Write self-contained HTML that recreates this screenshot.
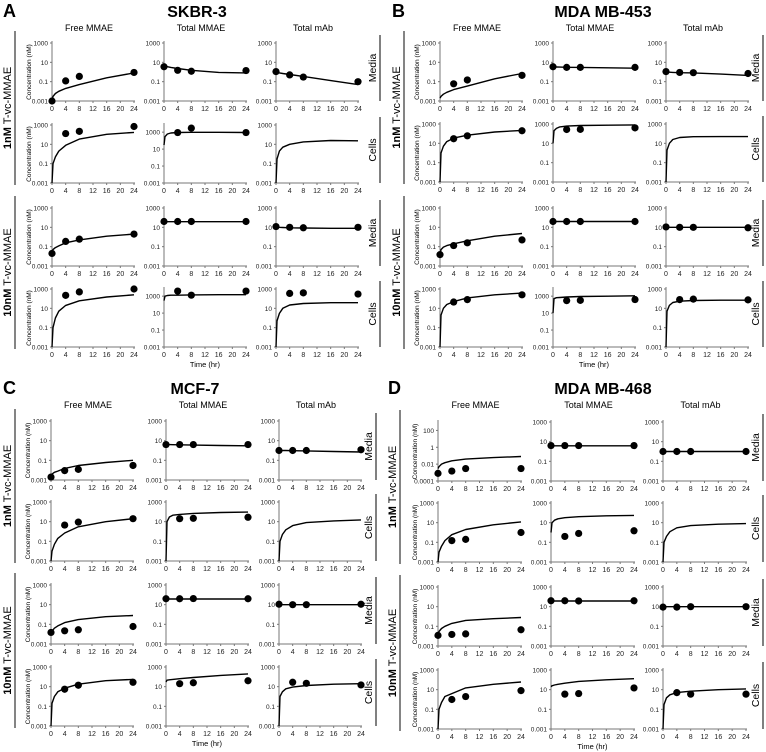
<!DOCTYPE html>
<html><head><meta charset="utf-8"><style>
html,body{margin:0;padding:0;background:#fff}
svg{display:block;font-family:"Liberation Sans",sans-serif}
</style></head><body>
<svg id="fig" width="766" height="752" viewBox="0 0 766 752" xmlns="http://www.w3.org/2000/svg"></svg>
<script>
const T_PTS=[0,4,8,24];
const T_CURVE=[0,0.3,1,2,4,8,16,24];
const X_TICKS=[0,4,8,12,16,20,24];
const COL_TITLES=['Free MMAE','Total MMAE','Total mAb'];
const ROW_TYPES=['Media','Cells','Media','Cells'];
const DOSE_LABELS=['1nM','10nM'];
const N=null;
const ptsA=[[0.001,0.12,0.35,0.9],[3.5,1.5,1.2,1.4],[1.1,0.5,0.3,0.1],
 [N,130,220,700],[N,900,3000,900],N,
 [0.02,0.35,0.6,2],[40,40,40,40],[12,10,9,10],
 [N,220,500,1300],[N,4000,1300,4000],[N,350,400,300]];
const curveA=[[0.001,0.003,0.006,0.01,0.02,0.05,0.25,0.8],[4,3.8,3.5,3,2.3,1.5,0.9,0.8],[0.9,0.85,0.8,0.7,0.55,0.35,0.13,0.05],
 [0.001,0.1,0.5,2,8,35,110,170],[30,300,600,800,900,950,950,900],[0.001,0.3,2,5,10,18,25,23],
 [0.02,0.05,0.08,0.12,0.25,0.5,1.2,2],[38,38,38,38,38,38,38,38],[11,10.5,10,9.5,9,8.5,8,8],
 [0.001,0.1,1,5,20,60,150,250],[300,1000,1200,1300,1300,1400,1500,1500],[0.001,0.5,3,10,22,32,38,38]];
const ptsB=[[N,0.06,0.15,0.45],[3.5,3,3,3],[1.1,0.9,0.85,0.7],
 [N,30,60,200],[N,270,280,400],N,
 [0.015,0.13,0.25,0.5],[40,40,40,40],[11,10,10,9],
 [N,45,80,250],[N,300,320,400],[N,80,90,75]];
const curveB=[[0.002,0.003,0.005,0.008,0.015,0.035,0.2,0.7],[3.5,3.4,3.3,3.2,3.1,3,2.7,2.5],[1,0.98,0.95,0.9,0.85,0.8,0.6,0.45],
 [0.001,1,5,15,35,70,150,220],[10,200,350,500,600,700,750,800],[0.001,2,10,25,40,48,50,50],
 [0.015,0.05,0.09,0.13,0.2,0.4,1.2,2.3],[40,40,40,40,40,40,40,40],[10,10,10,10,10,10,10,10],
 [0.001,2,10,25,50,120,250,380],[10,500,650,700,800,900,1000,1100],[0.001,5,20,40,55,65,70,70]];
const ptsC=[[0.002,0.009,0.012,0.03],[4,4,4,4],[1,1,1,1.2],
 [N,4.5,9,20],[N,20,22,28],N,
 [0.015,0.022,0.028,0.06],[40,40,42,40],[11,10,10,11],
 [N,5.5,14,28],[N,20,25,40],[N,28,22,15]];
const curveC=[[0.002,0.004,0.006,0.008,0.015,0.03,0.06,0.1],[4,4,4,3.9,3.8,3.5,3.2,3],[1,1,1,1,0.95,0.9,0.8,0.7],
 [0.001,0.01,0.05,0.2,0.7,3,10,20],[0.001,10,30,45,55,70,85,95],[0.001,0.1,0.5,1.5,4,8,12,15],
 [0.015,0.02,0.04,0.07,0.15,0.3,0.6,0.8],[38,38,38,38,38,38,38,38],[10,10,10,10,10,10,10,10],
 [0.001,0.2,1,3,7,18,40,55],[30,45,50,55,65,85,140,200],[0.001,1,3,6,9,13,18,20]];
const ptsD=[[0.0008,0.0015,0.003,0.003],[4,4,4,4],[1,1,1,1],
 [N,0.15,0.2,1],[N,0.4,0.8,1.5],N,
 [0.012,0.015,0.017,0.045],[40,40,38,40],[9,9,10,10],
 [N,1,2,8],[N,3.5,4,15],[N,5,3.5,3.5]];
const curveD=[[0.003,0.005,0.01,0.015,0.025,0.04,0.06,0.08],[3.8,3.8,3.8,3.8,3.8,3.8,3.8,3.8],[1,1,1,1,1,1,1,1],
 [0.001,0.01,0.04,0.15,0.6,2,6,12],[1,10,18,25,32,40,50,55],[0.001,0.1,0.4,1.2,3,5,7,8],
 [0.015,0.03,0.06,0.1,0.2,0.4,0.6,0.8],[38,38,38,38,38,38,38,38],[10,10,10,10,10,10,10,10],
 [0.001,0.1,0.5,2,4,15,35,60],[20,25,30,35,45,70,100,130],[0.001,0.3,1.5,3,5,7,10,12]];
const Y_TICKS=[0.001,0.1,10,1000];
const Y_TICKS_D1=[0.0001,0.01,1,100];

const panels=[
 {key:'A',title:'SKBR-3',pts:ptsA,curve:curveA,ox:0,oy:0,tx:197,bar:380,cols:[52,164,276],rows:[43,125,208,289],w:82,h:58,tall:[4,10]},
 {key:'B',title:'MDA MB-453',pts:ptsB,curve:curveB,ox:389,oy:0,tx:603,bar:763,cols:[440,553,666],rows:[43,124,208,289],w:82,h:58,tall:[10]},
 {key:'C',title:'MCF-7',pts:ptsC,curve:curveC,ox:0,oy:377,tx:195,bar:376,cols:[51,166,279],rows:[421,502,585,667],w:82,h:59,tall:[]},
 {key:'D',title:'MDA MB-468',pts:ptsD,curve:curveD,ox:385,oy:377,tx:603,bar:763,cols:[438,551,663],rows:[422,503,587,670],w:83,h:59,tall:[],d1:true}
];
const svg=document.getElementById('fig');
const NS='http://www.w3.org/2000/svg';
function mk(tag,attrs,parent,text){const e=document.createElementNS(NS,tag);for(const k in attrs)e.setAttribute(k,attrs[k]);if(text!==undefined)e.textContent=text;(parent||svg).appendChild(e);return e;}

panels.forEach(p=>{
 const g=mk('g',{});
 
 
 const L=mk('text',{x:p.ox+3,y:p.oy+17,'font-size':18,'font-weight':'bold'},g,p.key);
 
 const T=mk('text',{x:p.tx,y:p.oy+17,'font-size':16,'font-weight':'bold','text-anchor':'middle'},g,p.title);
 
 p.cols.forEach((cx,ci)=>{
  const ct=mk('text',{x:cx+p.w/2-4,y:p.oy+31,'font-size':9,'text-anchor':'middle'},g,COL_TITLES[ci]);
  
 });
 [0,1].forEach(d=>{
  const y0=p.rows[d*2]-12, y1=p.rows[d*2+1]+p.h+2;
  const lx=p.ox+15;
  const ln=mk('line',{x1:lx,y1:y0,x2:lx,y2:y1,stroke:'#333','stroke-width':1.2},g);
  
  const cy=(y0+y1)/2;
  const t=mk('text',{x:0,y:0,'font-size':11,'text-anchor':'middle',transform:`translate(${p.ox+11},${cy}) rotate(-90)`},g);
  
  mk('tspan',{'font-weight':'bold'},t,DOSE_LABELS[d]);
  mk('tspan',{},t,' T-vc-MMAE');
 });
 p.rows.forEach((ry,ri)=>{
  const bx=p.bar;
  const b=mk('line',{x1:bx,y1:ry-8,x2:bx,y2:ry+p.h,stroke:'#555','stroke-width':1.5},g);
  
  const rt=mk('text',{x:0,y:0,'font-size':10.5,'text-anchor':'middle',transform:`translate(${bx-4},${ry+p.h/2-4}) rotate(-90)`},g,ROW_TYPES[ri]);
  
 });
 for(let ri=0;ri<4;ri++)for(let ci=0;ci<3;ci++){
  const idx=ri*3+ci;
  const x0=p.cols[ci], y0=p.rows[ri], w=p.w, h=p.h;
  let ymin=0.001,ymax=1000,ticks=Y_TICKS;
  if(p.tall.includes(idx)) ymax=7000;
  if(p.d1&&idx===0){ymin=0.0001;ticks=Y_TICKS_D1;}
  const lmin=Math.log10(ymin),lmax=Math.log10(ymax);
  const X=t=>x0+t/24*w;
  const Y=v=>{const l=Math.min(lmax,Math.max(lmin,Math.log10(v)));return y0+h*(lmax-l)/(lmax-lmin);};
  const sg=mk('g',{},g);
  
  
  const ax=mk('path',{d:`M${x0},${y0-2}V${y0+h}H${x0+w+1}`,fill:'none',stroke:'#777','stroke-width':1},sg);
  
  ticks.forEach(v=>{
   const yy=Y(v);
   mk('line',{x1:x0-2,y1:yy,x2:x0,y2:yy,stroke:'#777'},sg);
   const tl=mk('text',{x:x0-4,y:yy+2.5,'font-size':6.5,'text-anchor':'end',fill:'#222'},sg,String(v));
   
  });
  X_TICKS.forEach(t=>{
   mk('line',{x1:X(t),y1:y0+h,x2:X(t),y2:y0+h+2,stroke:'#777'},sg);
   const xl=mk('text',{x:X(t),y:y0+h+10,'font-size':7,'text-anchor':'middle',fill:'#222'},sg,String(t));
   
  });
  if(ci===0){
   const yt=mk('text',{x:0,y:0,'font-size':6.5,'text-anchor':'middle',transform:`translate(${x0-21},${y0+h/2}) rotate(-90)`},sg,'Concentration (nM)');
   
  }
  const cv=p.curve[idx];
  const d=cv.map((v,i)=>(i?'L':'M')+X(T_CURVE[i]).toFixed(1)+','+Y(v).toFixed(1)).join('');
  const cl=mk('path',{d:d,fill:'none',stroke:'#000','stroke-width':1.4,'stroke-linejoin':'round'},sg);
  
  const pv=p.pts[idx];
  if(pv) pv.forEach((v,i)=>{
   if(v===null)return;
   const c=mk('circle',{cx:X(T_PTS[i]),cy:Y(v),r:3.6,fill:'#000'},sg);
   
  });
  if(ri===3&&ci===1){
   const tt=mk('text',{x:x0+w/2,y:y0+h+20,'font-size':7.5,'text-anchor':'middle'},sg,'Time (hr)');
   
  }
 }
});
</script>
</body></html>
